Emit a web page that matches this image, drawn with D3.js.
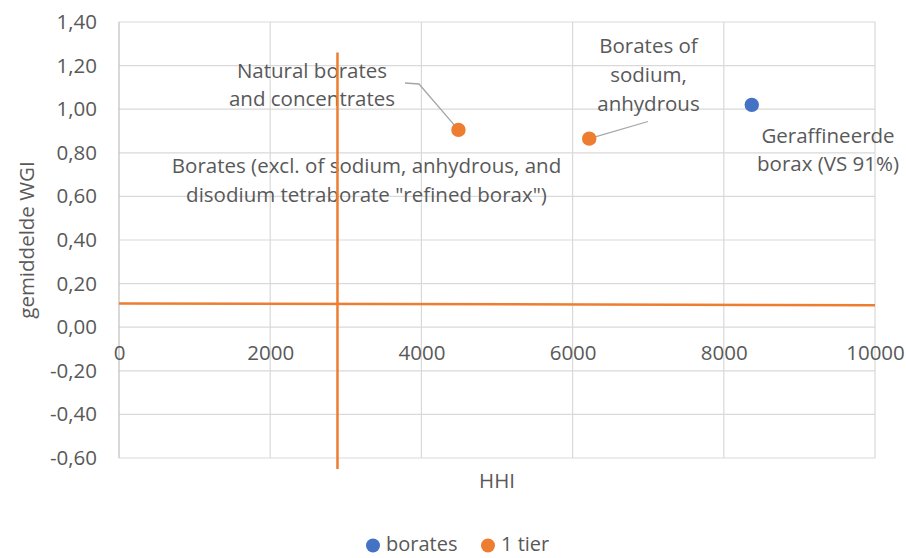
<!DOCTYPE html>
<html>
<head>
<meta charset="utf-8">
<script src="https://cdn.jsdelivr.net/npm/d3@7"></script>
<style>
  html, body { margin: 0; padding: 0; background: #fff; }
  svg { display: block; font-family: "Open Sans", sans-serif; }
</style>
</head>
<body>
<svg id="chart" width="906" height="558"></svg>
<script>
// ---- data ----
const xTicks = [0, 2000, 4000, 6000, 8000, 10000];
const yTicks = [-0.6, -0.4, -0.2, 0, 0.2, 0.4, 0.6, 0.8, 1.0, 1.2, 1.4];
const boratesHHI = [8370];
const boratesWGI = [1.02];
const tierHHI = [4490, 6220];
const tierWGI = [0.905, 0.865];
const vLineHHI = [2890, 2890];
const vLineWGI = [1.26, -0.65];
const hLineHHI = [0, 10000];
const hLineWGI = [0.109, 0.101];
const legendNames = ["borates", "1 tier"];
const colors = ["#4472C4", "#ED7D31"];

const svg = d3.select("#chart");
const L = 119, R = 875, T = 22, B = 458;
const x = d3.scaleLinear().domain([0, 10000]).range([L, R]);
const y = d3.scaleLinear().domain([-0.6, 1.4]).range([B, T]);
const nl = d3.formatLocale({decimal: ",", thousands: ".", grouping: [3], currency: ["", ""], minus: "-"});
const fy = nl.format(".2f");
const textCol = "#595959";
const gridCol = "#d9d9d9";

// gridlines
svg.append("g").selectAll("line.h").data(yTicks).join("line")
  .attr("x1", L).attr("x2", R).attr("y1", d => y(d)).attr("y2", d => y(d))
  .attr("stroke", gridCol).attr("stroke-width", 1.2);
svg.append("g").selectAll("line.v").data(xTicks).join("line")
  .attr("y1", T).attr("y2", B).attr("x1", d => x(d)).attr("x2", d => x(d))
  .attr("stroke", d => d === 0 ? "#bfbfbf" : gridCol).attr("stroke-width", 1.2);

// y axis labels
const yAx = svg.append("g").attr("transform", `translate(${L},0)`)
  .call(d3.axisLeft(y).tickValues(yTicks).tickFormat(fy).tickSize(0).tickPadding(22));
yAx.select(".domain").remove();
yAx.selectAll("text").attr("font-size", 20.5).attr("fill", textCol)
  .attr("font-family", "Open Sans");

// x axis labels at y=0
const xAx = svg.append("g").attr("transform", `translate(0,${y(0)})`)
  .call(d3.axisBottom(x).tickValues(xTicks).tickFormat(d3.format("d")).tickSize(0).tickPadding(18));
xAx.select(".domain").remove();
xAx.selectAll("text").attr("font-size", 20.5).attr("fill", textCol)
  .attr("font-family", "Open Sans");

// axis titles
svg.append("text").attr("x", 497).attr("y", 488).attr("text-anchor", "middle")
  .attr("font-size", 20.5).attr("fill", textCol).text("HHI");
svg.append("text").attr("transform", "translate(34,240) rotate(-90)").attr("text-anchor", "middle")
  .attr("font-size", 20.5).attr("fill", textCol).text("gemiddelde WGI");

// annotation labels
function label(lines, cx, baseline, step) {
  const t = svg.append("text").attr("text-anchor", "middle").attr("font-size", 20.5).attr("fill", textCol);
  lines.forEach((s, i) => t.append("tspan").attr("x", cx).attr("y", baseline + i * step).text(s));
}
label(["Borates (excl. of sodium, anhydrous, and", "disodium tetraborate \"refined borax\")"], 366.5, 173, 28.5);
label(["Natural borates", "and concentrates"], 312, 78, 27.5);
label(["Borates of", "sodium,", "anhydrous"], 648.5, 53, 29);
label(["Geraffineerde", "borax (VS 91%)"], 828, 142.5, 28.5);

// reference lines
const line = d3.line().x(d => x(d[0])).y(d => y(d[1]));
svg.append("path").attr("d", line(d3.zip(vLineHHI, vLineWGI)))
  .attr("stroke", colors[1]).attr("stroke-width", 2.5).attr("fill", "none");
svg.append("path").attr("d", line(d3.zip(hLineHHI, hLineWGI)))
  .attr("stroke", colors[1]).attr("stroke-width", 2.5).attr("fill", "none");

// leader lines
svg.append("polyline").attr("points", `405,83 419,84 ${x(tierHHI[0])},${y(tierWGI[0])}`)
  .attr("stroke", "#a6a6a6").attr("stroke-width", 1.3).attr("fill", "none");
svg.append("polyline").attr("points", `648,121.5 ${x(tierHHI[1])},${y(tierWGI[1])}`)
  .attr("stroke", "#a6a6a6").attr("stroke-width", 1.3).attr("fill", "none");

// points
svg.append("g").selectAll("circle").data(d3.zip(tierHHI, tierWGI)).join("circle")
  .attr("cx", d => x(d[0])).attr("cy", d => y(d[1])).attr("r", 7.2).attr("fill", colors[1]);
svg.append("g").selectAll("circle").data(d3.zip(boratesHHI, boratesWGI)).join("circle")
  .attr("cx", d => x(d[0])).attr("cy", d => y(d[1])).attr("r", 7.2).attr("fill", colors[0]);

// legend
const legX = [373, 488];
legendNames.forEach((n, i) => {
  svg.append("circle").attr("cx", legX[i]).attr("cy", 545.5).attr("r", 7).attr("fill", colors[i]);
  svg.append("text").attr("x", legX[i] + 13).attr("y", 551).attr("font-size", 20)
    .attr("fill", textCol).text(n);
});
</script>
</body>
</html>
